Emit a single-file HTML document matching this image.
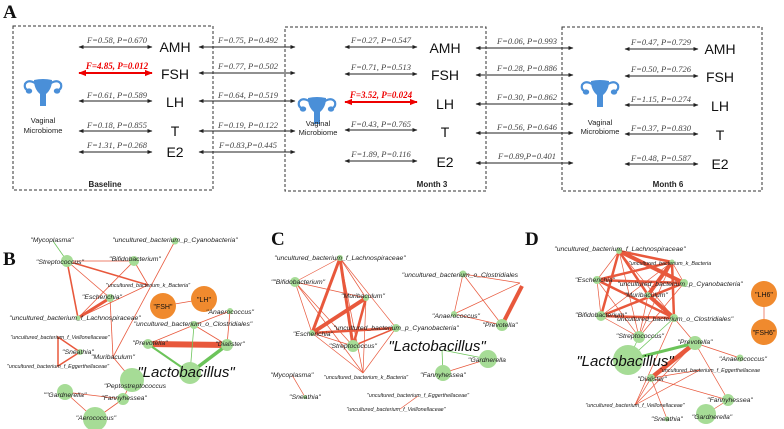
<!DOCTYPE html>
<html><head><meta charset="utf-8"><style>
html,body{margin:0;padding:0;background:#fff}
svg{display:block}
.f{font-family:"Liberation Serif",serif;font-style:italic;font-size:8.5px;fill:#444;text-anchor:middle}
.fr{font-family:"Liberation Serif",serif;font-style:italic;font-weight:bold;font-size:9px;fill:#e00;text-anchor:middle}
.h{font-family:"Liberation Sans",sans-serif;font-size:14px;fill:#111;text-anchor:middle}
.vm{font-family:"Liberation Sans",sans-serif;font-size:7.5px;fill:#222;text-anchor:middle}
.bl{font-family:"Liberation Sans",sans-serif;font-size:8px;font-weight:bold;fill:#222;text-anchor:middle}
.L{font-family:"Liberation Serif",serif;font-weight:bold;font-size:19px;fill:#111}
.n{font-family:"Liberation Sans",sans-serif;font-style:italic;font-size:6.8px;fill:#222;text-anchor:middle}
.s{font-family:"Liberation Sans",sans-serif;font-style:italic;font-size:5.4px;fill:#222;text-anchor:middle}
.big{font-family:"Liberation Sans",sans-serif;font-style:italic;font-size:15px;fill:#111;text-anchor:middle}
.o{font-family:"Liberation Sans",sans-serif;font-size:7px;fill:#111;text-anchor:middle}
.box{fill:none;stroke:#333;stroke-width:1;stroke-dasharray:3,2}
.r{stroke:#e8583c;fill:none}
.g{stroke:#6cc45a;fill:none}
.nd{fill:#a6dc96}
.or{fill:#f08a2e}
</style></head><body>
<svg width="784" height="429" viewBox="0 0 784 429" xmlns="http://www.w3.org/2000/svg">
<defs>
<marker id="a" viewBox="0 0 10 10" refX="9" refY="5" markerWidth="5" markerHeight="5" orient="auto-start-reverse"><path d="M0,1 L10,5 L0,9 z" fill="#222"/></marker>
<marker id="ar" viewBox="0 0 10 10" refX="9" refY="5" markerWidth="4" markerHeight="4" orient="auto-start-reverse"><path d="M0,1 L10,5 L0,9 z" fill="#e00"/></marker>
<g id="ut" fill="#4a8fd8">
<path d="M11,1 Q20,-1 29,1 Q29,10 23,15 L23,27 L17,27 L17,15 Q11,10 11,1 z"/>
<path d="M12,4 Q5,0 2,5 Q1,9 4,11" stroke="#4a8fd8" stroke-width="2.2" fill="none"/>
<path d="M28,4 Q35,0 38,5 Q39,9 36,11" stroke="#4a8fd8" stroke-width="2.2" fill="none"/>
<ellipse cx="6" cy="12" rx="3.2" ry="2.6"/><ellipse cx="34" cy="12" rx="3.2" ry="2.6"/>
</g>
</defs>
<text class="L" x="3" y="18">A</text>
<rect class="box" x="13" y="26" width="200" height="164"/>
<rect class="box" x="285" y="27" width="201" height="164"/>
<rect class="box" x="562" y="27" width="200" height="164"/>
<use href="#ut" x="23" y="79"/>
<text class="vm" x="43" y="123">Vaginal</text><text class="vm" x="43" y="133">Microbiome</text>
<use href="#ut" x="297" y="97"/>
<text class="vm" x="318" y="126">Vaginal</text><text class="vm" x="318" y="135">Microbiome</text>
<use href="#ut" x="580" y="80"/>
<text class="vm" x="600" y="125">Vaginal</text><text class="vm" x="600" y="134">Microbiome</text>
<text class="bl" x="105" y="187">Baseline</text>
<text class="bl" x="432" y="187">Month 3</text>
<text class="bl" x="668" y="187">Month 6</text>
<g stroke="#222" stroke-width="1" marker-start="url(#a)" marker-end="url(#a)">
<line x1="79" y1="47" x2="152" y2="47"/><line x1="79" y1="101" x2="152" y2="101"/><line x1="79" y1="131" x2="152" y2="131"/><line x1="79" y1="152" x2="152" y2="152"/>
<line x1="199" y1="47" x2="295" y2="47"/><line x1="199" y1="73" x2="295" y2="73"/><line x1="199" y1="101" x2="295" y2="101"/><line x1="199" y1="131" x2="295" y2="131"/><line x1="199" y1="152" x2="295" y2="152"/>
<line x1="345" y1="47" x2="417" y2="47"/><line x1="345" y1="74" x2="417" y2="74"/><line x1="345" y1="130" x2="417" y2="130"/><line x1="345" y1="161" x2="417" y2="161"/>
<line x1="476" y1="48" x2="573" y2="48"/><line x1="476" y1="75" x2="573" y2="75"/><line x1="476" y1="104" x2="573" y2="104"/><line x1="476" y1="133" x2="573" y2="133"/><line x1="476" y1="163" x2="573" y2="163"/>
<line x1="625" y1="49" x2="698" y2="49"/><line x1="625" y1="76" x2="698" y2="76"/><line x1="625" y1="105" x2="698" y2="105"/><line x1="625" y1="134" x2="698" y2="134"/><line x1="625" y1="164" x2="698" y2="164"/>
</g>
<g stroke="#e00" stroke-width="2" marker-start="url(#ar)" marker-end="url(#ar)">
<line x1="79" y1="73" x2="152" y2="73"/><line x1="345" y1="102" x2="417" y2="102"/>
</g>
<text class="f" x="117" y="43">F=0.58, P=0.670</text>
<text class="fr" x="117" y="69">F=4.85, P=0.012</text>
<text class="f" x="117" y="98">F=0.61, P=0.589</text>
<text class="f" x="117" y="128">F=0.18, P=0.855</text>
<text class="f" x="117" y="148">F=1.31, P=0.268</text>
<text class="h" x="175" y="52">AMH</text><text class="h" x="175" y="79">FSH</text><text class="h" x="175" y="107">LH</text><text class="h" x="175" y="136">T</text><text class="h" x="175" y="157">E2</text>
<text class="f" x="248" y="43">F=0.75, P=0.492</text>
<text class="f" x="248" y="69">F=0.77, P=0.502</text>
<text class="f" x="248" y="98">F=0.64, P=0.519</text>
<text class="f" x="248" y="128">F=0.19, P=0.122</text>
<text class="f" x="248" y="148">F=0.83,P=0.445</text>
<text class="f" x="381" y="43">F=0.27, P=0.547</text>
<text class="f" x="381" y="70">F=0.71, P=0.513</text>
<text class="fr" x="381" y="98">F=3.52, P=0.024</text>
<text class="f" x="381" y="127">F=0.43, P=0.765</text>
<text class="f" x="381" y="157">F=1.89, P=0.116</text>
<text class="h" x="445" y="53">AMH</text><text class="h" x="445" y="80">FSH</text><text class="h" x="445" y="109">LH</text><text class="h" x="445" y="137">T</text><text class="h" x="445" y="167">E2</text>
<text class="f" x="527" y="44">F=0.06, P=0.993</text>
<text class="f" x="527" y="71">F=0.28, P=0.886</text>
<text class="f" x="527" y="100">F=0.30, P=0.862</text>
<text class="f" x="527" y="130">F=0.56, P=0.646</text>
<text class="f" x="527" y="159">F=0.89,P=0.401</text>
<text class="f" x="661" y="45">F=0.47, P=0.729</text>
<text class="f" x="661" y="72">F=0.50, P=0.726</text>
<text class="f" x="661" y="102">F=1.15, P=0.274</text>
<text class="f" x="661" y="131">F=0.37, P=0.830</text>
<text class="f" x="661" y="161">F=0.48, P=0.587</text>
<text class="h" x="720" y="54">AMH</text><text class="h" x="720" y="82">FSH</text><text class="h" x="720" y="111">LH</text><text class="h" x="720" y="140">T</text><text class="h" x="720" y="169">E2</text>

<!-- B -->
<text class="L" x="3" y="265">B</text>
<g class="r" stroke-width="0.8">
<line x1="67" y1="261" x2="134" y2="261"/><line x1="67" y1="261" x2="148" y2="285"/><line x1="134" y1="261" x2="148" y2="285"/>
<line x1="134" y1="261" x2="78" y2="318"/><line x1="175" y1="241" x2="113" y2="357"/><line x1="148" y1="285" x2="78" y2="318"/>
<line x1="110" y1="298" x2="113" y2="357"/><line x1="67" y1="261" x2="110" y2="298"/><line x1="113" y1="357" x2="132" y2="380"/>
<line x1="163" y1="306" x2="204" y2="299"/><line x1="148" y1="344" x2="194" y2="325"/><line x1="194" y1="325" x2="227" y2="345"/><line x1="230" y1="311" x2="227" y2="345"/><line x1="230" y1="311" x2="194" y2="325"/>
<line x1="65" y1="392" x2="123" y2="399"/><line x1="65" y1="392" x2="95" y2="419"/><line x1="95" y1="419" x2="123" y2="399"/><line x1="123" y1="399" x2="132" y2="380"/>
</g>
<line class="r" stroke-width="1.6" x1="67" y1="261" x2="78" y2="318"/>
<line class="r" stroke-width="1.6" x1="67" y1="261" x2="148" y2="285"/>
<line class="r" stroke-width="3" x1="78" y1="318" x2="110" y2="298"/>
<path class="r" stroke-width="1.5" d="M58,337 L58,366 L80,352 z"/>
<line class="r" stroke-width="6" x1="148" y1="344" x2="227" y2="345"/>
<line class="g" stroke-width="0.8" x1="53" y1="241" x2="67" y2="261"/>
<line class="g" stroke-width="0.8" x1="194" y1="325" x2="190" y2="373"/>
<line class="g" stroke-width="2" x1="148" y1="344" x2="190" y2="373"/>
<line class="g" stroke-width="3.5" x1="227" y1="345" x2="190" y2="373"/>
<g class="nd">
<circle cx="67" cy="261" r="6"/><circle cx="134" cy="261" r="5"/><circle cx="175" cy="241" r="3.5"/><circle cx="110" cy="298" r="4"/><circle cx="78" cy="318" r="2.5"/>
<circle cx="230" cy="311" r="3"/><circle cx="194" cy="325" r="4"/><circle cx="148" cy="344" r="5"/><circle cx="227" cy="345" r="6"/><circle cx="190" cy="373" r="11"/>
<circle cx="132" cy="380" r="12"/><circle cx="65" cy="392" r="8"/><circle cx="123" cy="399" r="6"/><circle cx="95" cy="419" r="12"/><circle cx="80" cy="352" r="3"/>
</g>
<circle class="or" cx="163" cy="306" r="13"/><circle class="or" cx="204" cy="299" r="13"/>
<text class="o" x="163" y="309">"FSH"</text><text class="o" x="204" y="302">"LH"</text>
<text class="n" x="52" y="242">"Mycoplasma"</text>
<text class="n" x="175" y="242">"uncultured_bacterium_p_Cyanobacteria"</text>
<text class="n" x="60" y="264">"Streptococcus"</text>
<text class="n" x="135" y="261">"Bifidobacterium"</text>
<text class="s" x="148" y="287">"uncultured_bacterium_k_Bacteria"</text>
<text class="n" x="102" y="299">"Escherichia"</text>
<text class="n" x="75" y="320">"uncultured_bacterium_f_Lachnospiraceae"</text>
<text class="n" x="230" y="314">"Anaerococcus"</text>
<text class="n" x="193" y="326">"uncultured_bacterium_o_Clostridiales"</text>
<text class="s" x="60" y="339">"uncultured_bacterium_f_Veillonellaceae"</text>
<text class="n" x="150" y="345">"Prevotella"</text>
<text class="n" x="230" y="346">"Dialister"</text>
<text class="n" x="78" y="354">"Sneathia"</text>
<text class="n" x="113" y="359">"Muribaculum"</text>
<text class="s" x="58" y="368">"uncultured_bacterium_f_Eggerthellaceae"</text>
<text class="big" x="186" y="377">"Lactobacillus"</text>
<text class="n" x="135" y="388">"Peptostreptococcus</text>
<text class="n" x="65" y="397">""Gardnerella"</text>
<text class="n" x="124" y="400">"Fannyhessea"</text>
<text class="n" x="96" y="420">"Aerococcus"</text>

<!-- C -->
<text class="L" x="271" y="245">C</text>
<g class="r" stroke-width="0.7">
<line x1="340" y1="258" x2="295" y2="282"/><line x1="340" y1="258" x2="366" y2="298"/><line x1="340" y1="258" x2="396" y2="328"/><line x1="340" y1="258" x2="363" y2="373"/>
<line x1="295" y1="282" x2="366" y2="298"/><line x1="295" y1="282" x2="312" y2="333"/><line x1="295" y1="282" x2="353" y2="346"/><line x1="295" y1="282" x2="363" y2="373"/>
<line x1="366" y1="298" x2="363" y2="373"/><line x1="312" y1="333" x2="363" y2="373"/><line x1="396" y1="328" x2="363" y2="373"/><line x1="312" y1="333" x2="353" y2="346"/>
<line x1="292" y1="375" x2="305" y2="397"/><line x1="418" y1="396" x2="400" y2="409"/>
<line x1="463" y1="274" x2="454" y2="314"/><line x1="463" y1="274" x2="502" y2="325"/><line x1="463" y1="274" x2="520" y2="283"/><line x1="454" y1="314" x2="502" y2="325"/><line x1="454" y1="314" x2="520" y2="283"/>
<line x1="488" y1="359" x2="443" y2="373"/>
</g>
<line class="r" stroke-width="3" x1="340" y1="258" x2="312" y2="333"/>
<line class="r" stroke-width="3" x1="340" y1="258" x2="353" y2="346"/>
<line class="r" stroke-width="4" x1="312" y1="333" x2="366" y2="298"/>
<line class="r" stroke-width="2.5" x1="366" y1="298" x2="353" y2="346"/>
<line class="r" stroke-width="2.5" x1="312" y1="333" x2="396" y2="328"/>
<line class="r" stroke-width="1.5" x1="353" y1="346" x2="396" y2="328"/>
<line class="r" stroke-width="4" x1="502" y1="325" x2="522" y2="286"/>
<line class="g" stroke-width="0.8" x1="442" y1="350" x2="488" y2="359"/>
<line class="g" stroke-width="0.8" x1="442" y1="350" x2="443" y2="373"/>
<g class="nd">
<circle cx="340" cy="258" r="3"/><circle cx="295" cy="282" r="5"/><circle cx="366" cy="298" r="3"/><circle cx="396" cy="328" r="4"/><circle cx="312" cy="333" r="3"/>
<circle cx="353" cy="346" r="6"/><circle cx="463" cy="274" r="3.5"/><circle cx="454" cy="314" r="3"/><circle cx="502" cy="325" r="6"/><circle cx="488" cy="359" r="9"/><circle cx="443" cy="373" r="8"/><circle cx="305" cy="397" r="2"/>
</g>
<text class="n" x="340" y="260">"uncultured_bacterium_f_Lachnospiraceae"</text>
<text class="n" x="298" y="284">""Bifidobacterium"</text>
<text class="n" x="363" y="298">"Muribaculum"</text>
<text class="n" x="396" y="330">"uncultured_bacterium_p_Cyanobacteria"</text>
<text class="n" x="313" y="336">"Escherichia"</text>
<text class="n" x="353" y="348">"Streptococcus"</text>
<text class="s" x="366" y="379">"uncultured_bacterium_k_Bacteria"</text>
<text class="n" x="292" y="377">"Mycoplasma"</text>
<text class="n" x="305" y="399">"Sneathia"</text>
<text class="s" x="418" y="397">"uncultured_bacterium_f_Eggerthellaceae"</text>
<text class="s" x="396" y="411">"uncultured_bacterium_f_Veillonellaceae"</text>
<text class="n" x="460" y="277">"uncultured_bacterium_o_Clostridiales</text>
<text class="n" x="456" y="318">"Anaerococcus"</text>
<text class="n" x="500" y="327">"Prevotella"</text>
<text class="big" x="437" y="351">"Lactobacillus"</text>
<text class="n" x="487" y="362">"Gardnerella</text>
<text class="n" x="443" y="377">"Fannyhessea"</text>

<!-- D -->
<text class="L" x="525" y="245">D</text>
<g class="r" stroke-width="0.7">
<line x1="619" y1="251" x2="597" y2="280"/><line x1="619" y1="251" x2="684" y2="283"/><line x1="619" y1="251" x2="674" y2="318"/><line x1="619" y1="251" x2="639" y2="337"/>
<line x1="672" y1="262" x2="601" y2="316"/><line x1="672" y1="262" x2="684" y2="283"/><line x1="672" y1="262" x2="639" y2="337"/><line x1="597" y1="280" x2="601" y2="316"/>
<line x1="597" y1="280" x2="639" y2="337"/><line x1="684" y1="283" x2="639" y2="337"/><line x1="601" y1="316" x2="639" y2="337"/><line x1="648" y1="295" x2="639" y2="337"/>
<line x1="674" y1="318" x2="695" y2="343"/><line x1="695" y1="343" x2="740" y2="358"/><line x1="695" y1="343" x2="728" y2="400"/><line x1="695" y1="343" x2="635" y2="405"/>
<line x1="651" y1="378" x2="700" y2="370"/><line x1="651" y1="378" x2="728" y2="400"/><line x1="651" y1="378" x2="667" y2="419"/><line x1="651" y1="378" x2="635" y2="405"/>
<line x1="700" y1="370" x2="635" y2="405"/><line x1="728" y1="400" x2="706" y2="414"/><line x1="674" y1="318" x2="635" y2="405"/>
<line x1="764" y1="294" x2="764" y2="332"/>
</g>
<g class="r" stroke-width="2.5">
<line x1="619" y1="251" x2="672" y2="262"/><line x1="619" y1="251" x2="648" y2="295"/><line x1="619" y1="251" x2="601" y2="316"/>
<line x1="597" y1="280" x2="684" y2="283"/><line x1="597" y1="280" x2="674" y2="318"/><line x1="672" y1="262" x2="597" y2="280"/>
<line x1="672" y1="262" x2="674" y2="318"/><line x1="684" y1="283" x2="601" y2="316"/><line x1="601" y1="316" x2="674" y2="318"/>
</g>
<line class="r" stroke-width="4" x1="619" y1="251" x2="684" y2="283"/>
<line class="r" stroke-width="4" x1="672" y1="262" x2="648" y2="295"/>
<line class="r" stroke-width="4" x1="648" y1="295" x2="674" y2="318"/>
<line class="r" stroke-width="4.5" x1="695" y1="343" x2="651" y2="378"/>
<line class="g" stroke-width="0.7" x1="674" y1="318" x2="628" y2="360"/>
<line class="g" stroke-width="0.7" x1="639" y1="337" x2="628" y2="360"/>
<line class="g" stroke-width="3" x1="628" y1="360" x2="695" y2="343"/>
<g class="nd">
<circle cx="619" cy="251" r="3"/><circle cx="672" cy="262" r="2.5"/><circle cx="597" cy="280" r="4"/><circle cx="684" cy="283" r="4"/><circle cx="648" cy="295" r="3"/>
<circle cx="601" cy="316" r="5"/><circle cx="674" cy="318" r="4"/><circle cx="639" cy="337" r="6"/><circle cx="695" cy="343" r="7"/><circle cx="628" cy="360" r="15"/>
<circle cx="740" cy="358" r="3.5"/><circle cx="651" cy="378" r="4"/><circle cx="728" cy="400" r="6"/><circle cx="706" cy="414" r="10"/><circle cx="667" cy="419" r="2.5"/>
</g>
<circle class="or" cx="764" cy="294" r="13"/><circle class="or" cx="764" cy="332" r="13"/>
<text class="o" x="764" y="297">"LH6"</text><text class="o" x="764" y="335">"FSH6"</text>
<text class="n" x="620" y="251">"uncultured_bacterium_f_Lachnospiraceae"</text>
<text class="s" x="670" y="265">"uncultured_bacterium_k_Bacteria</text>
<text class="n" x="595" y="282">"Escherichia"</text>
<text class="n" x="680" y="286">"uncultured_bacterium_p_Cyanobacteria"</text>
<text class="n" x="646" y="297">"Muribaculum"</text>
<text class="n" x="601" y="317">"Bifidobacterium"</text>
<text class="n" x="674" y="321">"uncultured_bacterium_o_Clostridiales"</text>
<text class="n" x="640" y="338">"Streptococcus"</text>
<text class="n" x="695" y="344">"Prevotella"</text>
<text class="big" x="625" y="366">"Lactobacillus"</text>
<text class="n" x="743" y="361">"Anaerococcus"</text>
<text class="s" x="710" y="372">"uncultured_bacterium_f_Eggerthellaceae</text>
<text class="n" x="652" y="381">"Dialister"</text>
<text class="n" x="730" y="402">"Fannyhessea"</text>
<text class="s" x="635" y="407">"uncultured_bacterium_f_Veillonellaceae"</text>
<text class="n" x="712" y="419">"Gardnerella"</text>
<text class="n" x="667" y="421">"Sneathia"</text>
</svg>
</body></html>
